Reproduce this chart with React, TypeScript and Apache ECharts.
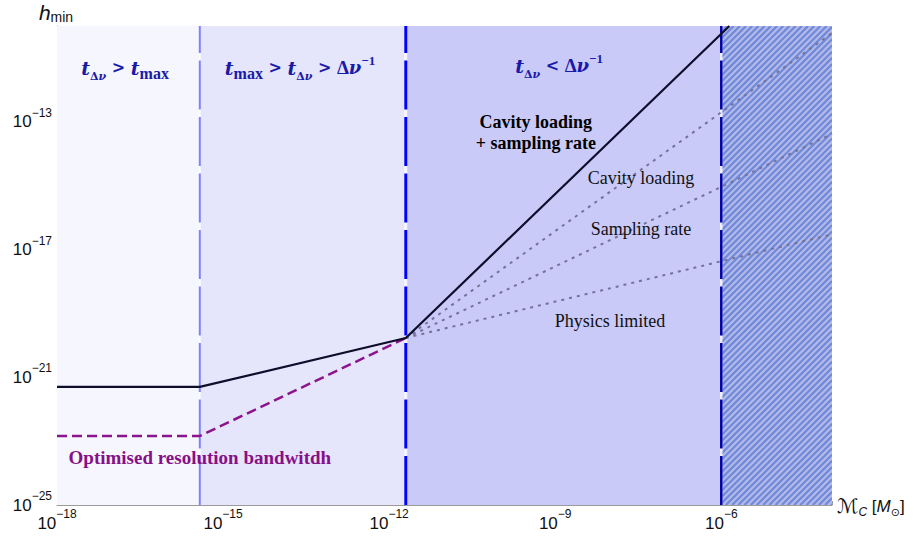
import React, { useEffect, useRef } from "react";
import * as echarts from "echarts";

// ---------------- data ----------------
const xRange = [1e-18, 1e-4];
const yRange = [1e-25, 1e-10];
const xTickLabels = [1e-18, 1e-15, 1e-12, 1e-9, 1e-6];
const yTickLabels = [1e-25, 1e-21, 1e-17, 1e-13];

// regime boundaries in chirp mass
const regionEdges = [1e-18, 3.8e-16, 2.0e-12, 1e-6, 1e-4];
const boundaries = [3.8e-16, 2.0e-12, 1e-6];

// sensitivity curves [M_C, h_min]
const combined = [[1e-18, 5.0e-22], [3.8e-16, 5.0e-22], [2.0e-12, 1.7e-20], [1.4e-6, 1e-10]];
const optimised = [[1e-18, 1.45e-23], [3.8e-16, 1.45e-23], [2.0e-12, 1.7e-20]];
const cavityLoading = [[2.0e-12, 1.7e-20], [1e-4, 6.0e-11]];
const samplingRate = [[2.0e-12, 1.7e-20], [1e-4, 4.2e-14]];
const physicsLimited = [[2.0e-12, 1.7e-20], [1e-4, 3.0e-17]];

// annotation anchors (log10 M_C, log10 h)
const annotationAnchors = [
  [-16.77, -11.31],
  [-13.61, -11.31],
  [-8.93, -11.25],
  [-9.35, -13.32],
  [-7.45, -14.76],
  [-7.45, -16.36],
  [-8.01, -19.24],
  [-15.42, -23.5],
];
const annotationTexts = [
  "{t|t}{s|Δ}{si|ν}{op| > }{t|t}{sm|max}",
  "{t|t}{sm|max}{op| > }{t|t}{s|Δ}{si|ν}{op| > }{D|Δ}{ni|ν}{sup|−1}",
  "{t|t}{s|Δ}{si|ν}{op| < }{D|Δ}{ni|ν}{sup|−1}",
  "Cavity loading\n+ sampling rate",
  "Cavity loading",
  "Sampling rate",
  "Physics limited",
  "Optimised resolution bandwitdh",
];

// ---------------- styles ----------------
const lg = (v: number) => Math.log10(v);
const toLog = (arr: number[][]) => arr.map((p) => [lg(p[0]), lg(p[1])]);
const LX0 = lg(xRange[0]);
const LX1 = lg(xRange[1]);
const LY0 = lg(yRange[0]);
const LY1 = lg(yRange[1]);

const regionFills = ["#f6f6fe", "#e5e5fb", "#cacaf8"];
const hatchBase = "#b4b9ea";
const hatchStroke = "#6f8ad8";
const boundaryColors = ["#8080ff", "#0000ff", "#0000a8"];
const boundaryWidths = [2, 3, 2.5];
const regionTextColor = "#1a1aa8";
const axisColor = "#9a9a9a";
const tickTextColor = "#111111";

const serif = "'Liberation Serif', 'Times New Roman', serif";
const mathSerif = "'DejaVu Serif', serif";
const sans = "'Liberation Sans', Arial, sans-serif";

const tickRich = {
  b: { fontFamily: sans, fontSize: 17, lineHeight: 30, color: tickTextColor },
  s: { fontFamily: sans, fontSize: 12, lineHeight: 10, verticalAlign: "top", color: tickTextColor },
};
const tickFormatter = (v: number) => `{b|10}{s|−${Math.abs(Math.round(v))}}`;

const regionRich = {
  t: { fontFamily: mathSerif, fontStyle: "italic", fontWeight: "bold", fontSize: 19, lineHeight: 28, color: regionTextColor },
  s: { fontFamily: mathSerif, fontWeight: "bold", fontSize: 11, lineHeight: 16, verticalAlign: "bottom", color: regionTextColor },
  si: { fontFamily: mathSerif, fontStyle: "italic", fontWeight: "bold", fontSize: 11, lineHeight: 16, verticalAlign: "bottom", color: regionTextColor },
  sm: { fontFamily: serif, fontWeight: "bold", fontSize: 16, lineHeight: 22, verticalAlign: "bottom", color: regionTextColor },
  op: { fontFamily: mathSerif, fontWeight: "bold", fontSize: 16, lineHeight: 28, color: regionTextColor },
  D: { fontFamily: serif, fontWeight: "bold", fontSize: 19, lineHeight: 28, color: regionTextColor },
  ni: { fontFamily: mathSerif, fontStyle: "italic", fontWeight: "bold", fontSize: 18, lineHeight: 28, color: regionTextColor },
  sup: { fontFamily: serif, fontWeight: "bold", fontSize: 13, lineHeight: 15, verticalAlign: "top", color: regionTextColor },
};

const annotationStyles: any[] = [
  { rich: regionRich },
  { rich: regionRich },
  { rich: regionRich },
  { fontFamily: serif, fontWeight: "bold", fontSize: 18, lineHeight: 21, color: "#000000" },
  { fontFamily: serif, fontSize: 18, color: "#111111" },
  { fontFamily: serif, fontSize: 18, color: "#111111" },
  { fontFamily: serif, fontSize: 18, color: "#111111" },
  { fontFamily: serif, fontWeight: "bold", fontSize: 19, color: "#870f87" },
];

export default function App() {
  const ref = useRef<HTMLDivElement>(null);

  useEffect(() => {
    document.body.style.margin = "0";
    if (!ref.current) return;
    const chart = echarts.init(ref.current, null, { renderer: "svg" });

    const regionData = regionEdges.slice(0, -1).map((e, i) => [lg(e), LY0, lg(regionEdges[i + 1]), LY1, i]);
    const boundaryData = boundaries.map((b, i) => [lg(b), LY0, LY1, i]);

    const option: any = {
      animation: false,
      backgroundColor: "#ffffff",
      grid: { left: 57, right: 88, top: 26, bottom: 31, containLabel: false, outerBoundsMode: "none" },
      xAxis: [
        {
          type: "value",
          min: LX0,
          max: LX1,
          position: "bottom",
          axisLine: { show: true, lineStyle: { color: axisColor, width: 1 } },
          axisTick: { show: true, inside: true, length: 8, customValues: xTickLabels.map(lg), lineStyle: { color: axisColor } },
          axisLabel: { customValues: xTickLabels.map(lg), formatter: tickFormatter, rich: tickRich, margin: 3 },
          splitLine: { show: false },
        },
        {
          type: "value",
          min: LX0,
          max: LX1,
          interval: 1,
          position: "bottom",
          axisLine: { show: false },
          axisTick: { show: true, inside: true, length: 4, lineStyle: { color: axisColor } },
          axisLabel: { show: false },
          splitLine: { show: false },
        },
      ],
      yAxis: [
        {
          type: "value",
          min: LY0,
          max: LY1,
          position: "left",
          axisLine: { show: true, lineStyle: { color: axisColor, width: 1 } },
          axisTick: { show: true, inside: true, length: 8, customValues: yTickLabels.map(lg), lineStyle: { color: axisColor } },
          axisLabel: { customValues: yTickLabels.map(lg), formatter: tickFormatter, rich: tickRich, margin: 5 },
          splitLine: { show: false },
        },
        {
          type: "value",
          min: LY0,
          max: LY1,
          interval: 1,
          position: "left",
          axisLine: { show: false },
          axisTick: { show: true, inside: true, length: 4, lineStyle: { color: axisColor } },
          axisLabel: { show: false },
          splitLine: { show: false },
        },
      ],
      graphic: [
        {
          type: "text",
          x: 56,
          y: 12,
          z: 100,
          style: {
            text: "{h|h}{m|min}",
            align: "center",
            verticalAlign: "middle",
            rich: {
              h: { fontFamily: sans, fontStyle: "italic", fontSize: 21, lineHeight: 24, fill: "#111" },
              m: { fontFamily: sans, fontSize: 14, lineHeight: 17, verticalAlign: "bottom", fill: "#111" },
            },
          },
        },
        {
          type: "text",
          x: 837,
          y: 506,
          z: 100,
          style: {
            text: "{M|ℳ}{c|C}{n| [}{Mi|M}{o|⊙}{n|]}",
            align: "left",
            verticalAlign: "middle",
            rich: {
              M: { fontFamily: "'DejaVu Sans', sans-serif", fontSize: 20, lineHeight: 24, fill: "#111" },
              c: { fontFamily: sans, fontStyle: "italic", fontSize: 12, lineHeight: 17, verticalAlign: "bottom", fill: "#111" },
              n: { fontFamily: sans, fontSize: 17, lineHeight: 24, fill: "#111" },
              Mi: { fontFamily: sans, fontStyle: "italic", fontSize: 17, lineHeight: 24, fill: "#111" },
              o: { fontFamily: "'DejaVu Sans', sans-serif", fontSize: 11, lineHeight: 15, verticalAlign: "bottom", fill: "#111" },
            },
          },
        },
      ],
      series: [
        {
          type: "custom",
          name: "regions",
          z: 1,
          silent: true,
          clip: true,
          encode: { x: [0, 2], y: [1, 3] },
          data: regionData,
          renderItem: (params: any, api: any) => {
            const x0 = api.value(0);
            const y0 = api.value(1);
            const x1 = api.value(2);
            const y1 = api.value(3);
            const idx = api.value(4);
            const tl = api.coord([x0, y1]);
            const br = api.coord([x1, y0]);
            const x = tl[0];
            const y = tl[1];
            const w = br[0] - tl[0];
            const h = br[1] - tl[1];
            if (idx < 3) {
              return { type: "rect", shape: { x, y, width: w, height: h }, style: { fill: regionFills[idx] } };
            }
            const children: any[] = [
              { type: "rect", shape: { x, y, width: w, height: h }, style: { fill: hatchBase } },
            ];
            for (let c = x + y; c <= x + w + y + h; c += 6.2) {
              const xa = Math.max(x, c - (y + h));
              const xb = Math.min(x + w, c - y);
              if (xb > xa) {
                children.push({
                  type: "line",
                  shape: { x1: xa, y1: c - xa, x2: xb, y2: c - xb },
                  style: { stroke: hatchStroke, lineWidth: 2.2 },
                });
              }
            }
            return { type: "group", children };
          },
        },
        {
          type: "custom",
          name: "boundaries",
          z: 3,
          silent: true,
          clip: true,
          encode: { x: 0, y: [1, 2] },
          data: boundaryData,
          renderItem: (params: any, api: any) => {
            const xv = api.value(0);
            const idx = api.value(3);
            const pb = api.coord([xv, api.value(1)]);
            const pt = api.coord([xv, api.value(2)]);
            return {
              type: "group",
              children: [
                {
                  type: "line",
                  shape: { x1: pb[0], y1: pb[1], x2: pt[0], y2: pt[1] },
                  style: { stroke: "rgba(255,255,255,0.75)", lineWidth: boundaryWidths[idx] },
                },
                {
                  type: "line",
                  shape: { x1: pb[0], y1: pb[1], x2: pt[0], y2: pt[1] },
                  style: { stroke: boundaryColors[idx], lineWidth: boundaryWidths[idx], lineDash: [49, 7.5] },
                },
              ],
            };
          },
        },
        {
          type: "line",
          name: "Physics limited",
          z: 4,
          data: toLog(physicsLimited),
          symbol: "none",
          silent: true,
          lineStyle: { color: "#73739a", width: 2, type: [3, 5] },
        },
        {
          type: "line",
          name: "Sampling rate",
          z: 4,
          data: toLog(samplingRate),
          symbol: "none",
          silent: true,
          lineStyle: { color: "#73739a", width: 2, type: [3, 5] },
        },
        {
          type: "line",
          name: "Cavity loading",
          z: 4,
          data: toLog(cavityLoading),
          symbol: "none",
          silent: true,
          lineStyle: { color: "#73739a", width: 2, type: [3, 5] },
        },
        {
          type: "line",
          name: "Optimised resolution bandwidth",
          z: 5,
          data: toLog(optimised),
          symbol: "none",
          silent: true,
          lineStyle: { color: "#8c148c", width: 2.5, type: [10, 5] },
        },
        {
          type: "line",
          name: "Cavity loading + sampling rate",
          z: 6,
          data: toLog(combined),
          symbol: "none",
          silent: true,
          lineStyle: { color: "#0e0e2c", width: 2.2 },
        },
        {
          type: "scatter",
          name: "annotations",
          z: 10,
          silent: true,
          symbolSize: 1,
          itemStyle: { color: "rgba(0,0,0,0)", opacity: 1 },
          data: annotationAnchors.map((p, i) => ({
            value: p,
            itemStyle: { opacity: 1 },
            label: {
              show: true,
              opacity: 1,
              position: "inside",
              align: "center",
              verticalAlign: "middle",
              formatter: annotationTexts[i],
              ...annotationStyles[i],
            },
          })),
        },
      ],
    };

    chart.setOption(option);
    return () => chart.dispose();
  }, []);

  return <div ref={ref} style={{ width: 920, height: 536 }} />;
}
